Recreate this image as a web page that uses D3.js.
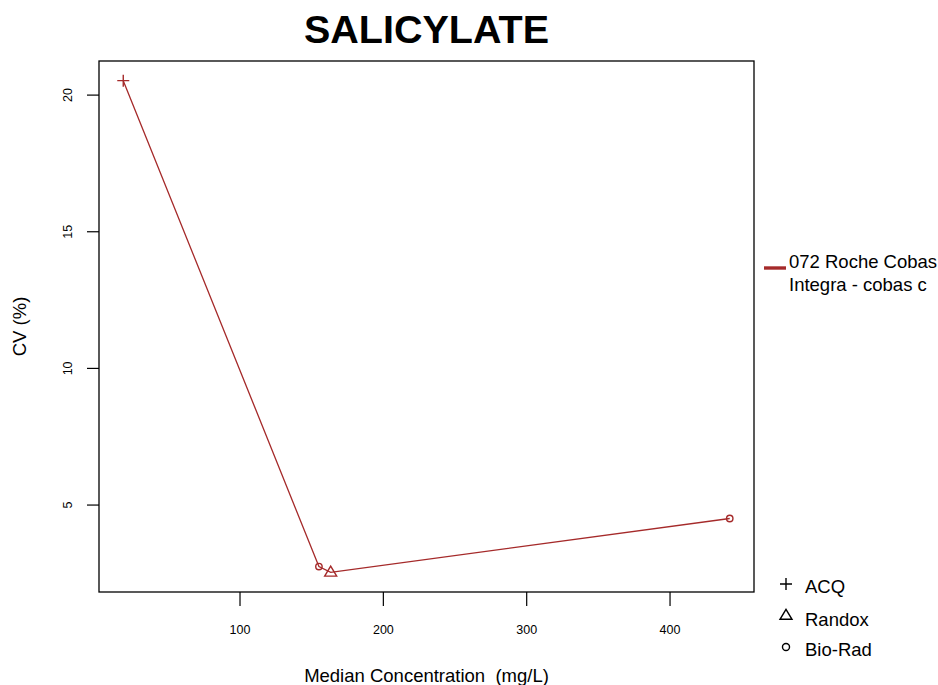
<!DOCTYPE html>
<html>
<head>
<meta charset="utf-8">
<script src="https://cdn.jsdelivr.net/npm/d3@7"></script>
<style>
  html, body { margin: 0; padding: 0; background: #fff; }
  svg { display: block; font-family: "Liberation Sans", Arial, Helvetica, sans-serif; }
  text { white-space: pre; }
</style>
</head>
<body>
<svg id="chart" width="938" height="685"></svg>
<script>
// Salicylate CV profile for one instrument, points labelled by control material
const concentration = [18.9, 155.4, 163.6, 442];
const cv = [20.51, 2.73, 2.52, 4.49];
const material = ["ACQ", "Bio-Rad", "Randox", "Bio-Rad"];
const seriesName = ["072 Roche Cobas", "Integra - cobas c"];
const materialLegend = ["ACQ", "Randox", "Bio-Rad"];
const xTicks = [100, 200, 300, 400];
const yTicks = [5, 10, 15, 20];

const lineColor = "#a52a2a";
const svg = d3.select("#chart");
const plot = { left: 99, right: 754, top: 61, bottom: 592 };

// R-style 4% range padding
function padded(vals) {
  const [lo, hi] = d3.extent(vals);
  const p = (hi - lo) * 0.04;
  return [lo - p, hi + p];
}
const x = d3.scaleLinear().domain(padded(concentration)).range([plot.left, plot.right]);
const y = d3.scaleLinear().domain(padded(cv)).range([plot.bottom, plot.top]);

// Title
svg.append("text")
  .attr("x", (plot.left + plot.right) / 2).attr("y", 43)
  .attr("text-anchor", "middle")
  .attr("font-size", 39.5).attr("font-weight", "bold")
  .text("SALICYLATE");

// Axes
const xAxis = d3.axisBottom(x).tickValues(xTicks).tickSize(14).tickPadding(19).tickFormat(d3.format("d"));
svg.append("g").attr("transform", `translate(0,${plot.bottom})`).call(xAxis)
  .call(g => g.select(".domain").remove())
  .call(g => g.selectAll("line").attr("stroke", "#000").attr("stroke-width", 1.2))
  .call(g => g.selectAll("text").attr("font-size", 12.5).attr("fill", "#000")
    .attr("font-family", "Liberation Sans, Arial, sans-serif"));

const yAxis = d3.axisLeft(y).tickValues(yTicks).tickSize(12).tickFormat(d3.format("d"));
const yg = svg.append("g").attr("transform", `translate(${plot.left},0)`).call(yAxis)
  .call(g => g.select(".domain").remove())
  .call(g => g.selectAll("line").attr("stroke", "#000").attr("stroke-width", 1.2));
yg.selectAll("text").remove();
yg.selectAll(".tick").append("text")
  .attr("transform", "translate(-27,0) rotate(-90)")
  .attr("text-anchor", "middle")
  .attr("font-size", 12.5).attr("fill", "#000")
  .attr("font-family", "Liberation Sans, Arial, sans-serif")
  .text(d => d);

// Plot frame
svg.append("rect")
  .attr("x", plot.left).attr("y", plot.top)
  .attr("width", plot.right - plot.left).attr("height", plot.bottom - plot.top)
  .attr("fill", "none").attr("stroke", "#000").attr("stroke-width", 1.3);

// Axis titles
svg.append("text")
  .attr("x", (plot.left + plot.right) / 2).attr("y", 682)
  .attr("text-anchor", "middle").attr("font-size", 18.5)
  .text("Median Concentration  (mg/L)");
svg.append("text")
  .attr("transform", `translate(26,${(plot.top + plot.bottom) / 2}) rotate(-90)`)
  .attr("text-anchor", "middle").attr("font-size", 18.5)
  .text("CV (%)");

// Series line
const pts = concentration.map((c, i) => ({ c, v: cv[i], m: material[i] }))
  .sort((a, b) => a.c - b.c);
svg.append("path")
  .datum(pts)
  .attr("fill", "none").attr("stroke", lineColor).attr("stroke-width", 1.3)
  .attr("d", d3.line().x(d => x(d.c)).y(d => y(d.v)));

// Marker drawing by control material
function drawMarker(g, kind, cx, cy, color, scale) {
  const s = scale || 1;
  if (kind === "ACQ") {
    g.append("path")
      .attr("d", `M${cx - 6 * s},${cy}H${cx + 6 * s}M${cx},${cy - 6 * s}V${cy + 6 * s}`)
      .attr("stroke", color).attr("stroke-width", 1.4).attr("fill", "none");
  } else if (kind === "Randox") {
    const h = 10 * s, w = 12 * s;
    g.append("path")
      .attr("d", `M${cx},${cy - h * 0.62}L${cx + w / 2},${cy + h * 0.38}L${cx - w / 2},${cy + h * 0.38}Z`)
      .attr("stroke", color).attr("stroke-width", 1.4).attr("fill", "none");
  } else {
    g.append("circle")
      .attr("cx", cx).attr("cy", cy).attr("r", 3.2 * s)
      .attr("stroke", color).attr("stroke-width", 1.4).attr("fill", "none");
  }
}
const mg = svg.append("g");
pts.forEach(p => drawMarker(mg, p.m, x(p.c), y(p.v), lineColor, 1));

// Series legend
svg.append("line")
  .attr("x1", 764).attr("x2", 786).attr("y1", 268).attr("y2", 268)
  .attr("stroke", lineColor).attr("stroke-width", 3.4);
seriesName.forEach((t, i) => {
  svg.append("text").attr("x", 789).attr("y", 268 + i * 23)
    .attr("font-size", 18.5).text(t);
});

// Material legend
const lg = svg.append("g");
materialLegend.forEach((t, i) => {
  const cy = 584 + i * 31.5;
  drawMarker(lg, t, 786, cy, "#000", i === 2 ? 1.1 : 1);
  lg.append("text").attr("x", 805).attr("y", cy + 9 + (i === 1 ? 1 : 0))
    .attr("font-size", 18.5).text(t);
});
</script>
</body>
</html>
